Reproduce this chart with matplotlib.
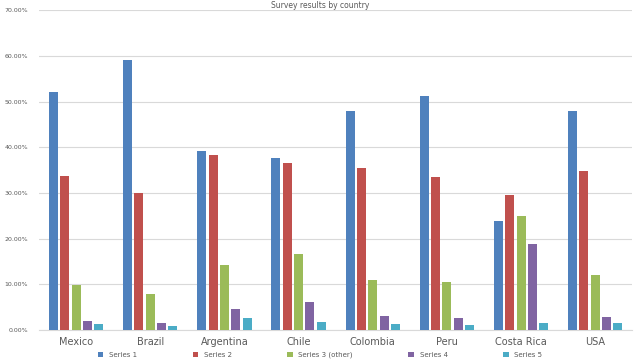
import numpy as np
from matplotlib import pyplot as plt
from matplotlib.ticker import FuncFormatter

countries = ['Mexico', 'Brazil', 'Argentina', 'Chile', 'Colombia', 'Peru', 'Costa Rica', 'USA']
series_names = ['Series 1', 'Series 2', 'Series 3 (other)', 'Series 4', 'Series 5']

# values in percent
s1 = [52.0, 59.1, 39.1, 37.7, 47.9, 51.3, 23.9, 47.9]
s2 = [33.8, 30.0, 38.4, 36.5, 35.5, 33.4, 29.5, 34.9]
s3 = [9.8, 7.9, 14.2, 16.6, 10.9, 10.6, 24.9, 12.0]
s4 = [2.0, 1.6, 4.7, 6.1, 3.1, 2.6, 18.8, 2.9]
s5 = [1.4, 0.9, 2.6, 1.7, 1.3, 1.2, 1.5, 1.5]

colors = ['#4F81BD', '#C0504D', '#9BBB59', '#8064A2', '#4BACC6']

fig = plt.figure(figsize=(6.4, 3.6), dpi=100)
ax = fig.add_axes([0.061, 0.083, 0.927, 0.889])

x = np.arange(len(countries))
pitch = 0.153
width = 0.122
for i, (vals, name, col) in enumerate(zip([s1, s2, s3, s4, s5], series_names, colors)):
    ax.bar(x + (i - 2) * pitch, vals, width, color=col, label=name, zorder=3)

ax.set_xlim(-0.5, len(countries) - 0.5)
ax.set_ylim(0, 70)
ax.set_yticks(np.arange(0, 71, 10))
ax.yaxis.set_major_formatter(FuncFormatter(lambda v, p: '%.2f%%' % v))
ax.set_xticks(x)
ax.set_xticklabels(countries)
ax.tick_params(axis='both', length=0, colors='#595959')
ax.tick_params(axis='y', labelsize=4.5, pad=8)
ax.tick_params(axis='x', labelsize=7, pad=5)
ax.grid(axis='y', color='#D9D9D9', linewidth=0.8, zorder=0)
for side in ['top', 'right', 'left']:
    ax.spines[side].set_visible(False)
ax.spines['bottom'].set_color('#D9D9D9')

fig.text(0.5, 0.997, 'Survey results by country', ha='center', va='top',
         fontsize=5.5, color='#595959')
fig.legend(loc='lower center', bbox_to_anchor=(0.5, -0.012), ncol=5, frameon=False,
           fontsize=5, handlelength=0.8, handleheight=0.8, columnspacing=8,
           labelcolor='#595959')

fig.savefig('out.png', dpi=100)
